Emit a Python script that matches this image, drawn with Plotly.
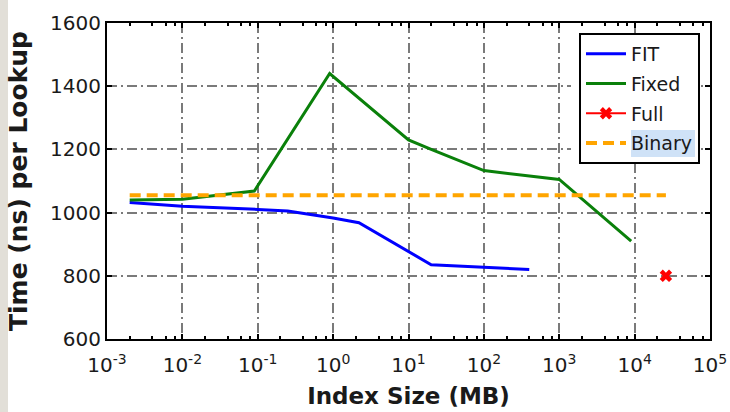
import plotly.graph_objects as go

# ---- data ----
fit_x = [0.002, 0.01, 0.1, 0.25, 1, 2.2, 20, 100, 400]
fit_y = [1032, 1020, 1010, 1005, 983, 968, 835, 828, 820]

fixed_x = [0.002, 0.01, 0.09, 0.9, 10, 20, 100, 1000, 9000]
fixed_y = [1040, 1042, 1068, 1440, 1230, 1200, 1133, 1105, 910]

full_x = [26000]
full_y = [800]

binary_x = [0.002, 26000]
binary_y = [1055, 1055]

x_exponents = [-3, -2, -1, 0, 1, 2, 3, 4, 5]
y_ticks = [600, 800, 1000, 1200, 1400, 1600]

# ---- layout geometry (pixels) ----
W, H = 730, 412
ML, MR, MT, MB = 107, 20, 23, 73
PW, PH = W - ML - MR, H - MT - MB


def px(x):
    return (x - ML) / PW


def py(y):
    return 1 - (y - MT) / PH


fig = go.Figure()
fig.add_trace(go.Scatter(x=fit_x, y=fit_y, mode="lines", name="FIT", legendgroup="a",
                         line=dict(color="#0000ff", width=3)))
fig.add_trace(go.Scatter(x=fixed_x, y=fixed_y, mode="lines", name="Fixed", legendgroup="b",
                         line=dict(color="#0a800a", width=3)))
fig.add_trace(go.Scatter(x=full_x, y=full_y, mode="lines+markers", name="Full", legendgroup="c",
                         line=dict(color="#ff0000", width=2),
                         marker=dict(symbol="x", size=11, color="#ff0000")))
fig.add_trace(go.Scatter(x=binary_x, y=binary_y, mode="lines", name="Binary", legendgroup="d",
                         line=dict(color="#ffa500", width=4, dash="11px,6px")))

x_tickvals = [10.0 ** e for e in x_exponents]
x_ticktext = ["10<sup>%d</sup>" % e for e in x_exponents]
minor_vals = [m * 10.0 ** e for e in x_exponents[:-1] for m in (2, 4, 6, 8)]

axis_common = dict(
    showline=True, linecolor="black", linewidth=2, mirror="ticks",
    ticks="inside", ticklen=5, tickwidth=1.5, tickcolor="black",
    showgrid=True, gridcolor="#7a7a7a", gridwidth=1.5, griddash="10px,4px,2px,4px",
    zeroline=False, automargin=False,
    tickfont=dict(family="DejaVu Sans", size=20, color="#1a1a1a"),
)

fig.update_xaxes(
    type="log", range=[-3, 5], tickmode="array", tickvals=x_tickvals, ticktext=x_ticktext,
    tickangle=0, ticklabelstandoff=7,
    minor=dict(tickmode="array", tickvals=minor_vals, ticks="inside",
               ticklen=3, tickwidth=1.5, tickcolor="black", showgrid=False),
    title=dict(text="Index Size (MB)", standoff=12,
               font=dict(family="DejaVu Sans", size=23, color="#1a1a1a", weight="bold")),
    **axis_common,
)
fig.update_yaxes(
    range=[600, 1600], tickmode="array", tickvals=y_ticks,
    title=dict(text="Time (ns) per Lookup", standoff=15,
               font=dict(family="DejaVu Sans", size=25, color="#1a1a1a", weight="bold")),
    **axis_common,
)

# legend box geometry
LX0, LX1, LY0, LY1 = 570, 700, 33, 163

shapes = [
    # textured strip at the far left
    dict(type="rect", xref="paper", yref="paper", x0=px(0), x1=px(8), y0=py(H), y1=py(0),
         fillcolor="#e2dfd8", line=dict(width=0), layer="below"),
    # legend background
    dict(type="rect", xref="paper", yref="paper", x0=px(LX0 + 1), x1=px(LX1 - 1),
         y0=py(LY1 - 1), y1=py(LY0 + 1),
         fillcolor="white", line=dict(width=0), layer="above"),
    # highlight behind "Binary"
    dict(type="rect", xref="paper", yref="paper", x0=px(631), x1=px(695),
         y0=py(157), y1=py(130),
         fillcolor="#cfe2f7", line=dict(width=0), layer="above"),
]

fig.update_layout(
    width=W, height=H,
    margin=dict(l=ML, r=MR, t=MT, b=MB, autoexpand=False),
    paper_bgcolor="white", plot_bgcolor="white",
    font=dict(family="DejaVu Sans", color="#1a1a1a"),
    shapes=shapes,
    legend=dict(
        x=px(LX1), y=py(LY0), xanchor="right", yanchor="top",
        bgcolor="rgba(0,0,0,0)", bordercolor="black", borderwidth=2,
        font=dict(family="DejaVu Sans", size=19, color="#1a1a1a"),
        tracegroupgap=2, itemwidth=40,
    ),
    showlegend=True,
)

fig.write_html("out.html")
